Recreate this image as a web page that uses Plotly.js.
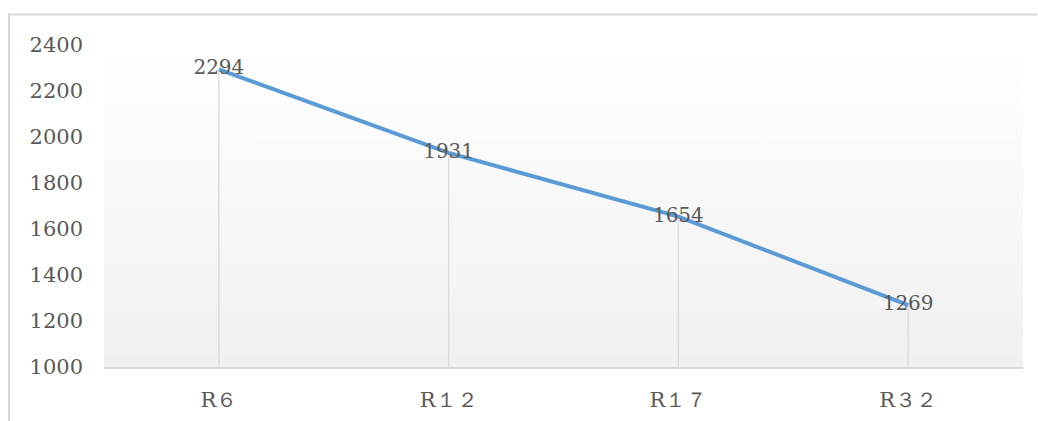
<!DOCTYPE html>
<html>
<head>
<meta charset="utf-8">
<script src="https://cdn.plot.ly/plotly-3.0.1.min.js"></script>
<style>html,body{margin:0;padding:0;background:#fff;}#chart{width:1038px;height:421px;}</style>
</head>
<body>
<div id="chart"></div>
<script>
const categories = ["R６", "R１２", "R１７", "R３２"];
const values = [2294, 1931, 1654, 1269];
const yTicks = [1000, 1200, 1400, 1600, 1800, 2000, 2200, 2400];
const yMin = 1000, yMax = 2400;

const FONT = "'DejaVu Serif', 'Liberation Serif', serif";

// drop lines built from data
const dropX = [], dropY = [];
categories.forEach((c, i) => { dropX.push(c, c, null); dropY.push(yMin, values[i], null); });

const gradSvg = "<svg xmlns='http://www.w3.org/2000/svg' width='100' height='100' preserveAspectRatio='none'>" +
  "<defs><linearGradient id='g' x1='0' y1='0' x2='0' y2='1'>" +
  "<stop offset='0' stop-color='#ffffff'/><stop offset='1' stop-color='#f0f0f0'/></linearGradient></defs>" +
  "<rect width='100' height='100' fill='url(#g)'/></svg>";

const traces = [
  {x: dropX, y: dropY, mode: 'lines', line: {color: '#d9d9d9', width: 1.3}, hoverinfo: 'skip', showlegend: false},
  {x: categories, y: values, mode: 'lines+text', text: values.map(String), textposition: 'middle center',
   textfont: {family: FONT, size: 20, color: '#595959'},
   line: {color: '#5b9bd5', width: 4}, showlegend: false}
];

const layout = {
  width: 1038, height: 421,
  margin: {l: 104, r: 15, t: 45, b: 54},
  paper_bgcolor: '#ffffff', plot_bgcolor: 'rgba(0,0,0,0)',
  font: {family: FONT, color: '#595959', size: 21},
  xaxis: {type: 'category', range: [-0.5, 3.5], showgrid: false, zeroline: false,
    showline: true, linecolor: '#d9d9d9', linewidth: 1.5, ticks: '', ticklabelstandoff: 13,
    tickfont: {family: FONT, size: 21, color: '#595959'}},
  yaxis: {range: [yMin, yMax], tickvals: yTicks, showgrid: false, zeroline: false, showline: false,
    ticks: '', ticklabelstandoff: 20, tickfont: {family: FONT, size: 21, color: '#595959'}},
  images: [{source: 'data:image/svg+xml;charset=utf-8,' + encodeURIComponent(gradSvg),
    xref: 'paper', yref: 'paper', x: 0, y: 1, sizex: 1, sizey: 1, sizing: 'stretch',
    xanchor: 'left', yanchor: 'top', layer: 'below'}],
  shapes: [{type: 'path', xref: 'paper', yref: 'paper',
    path: 'M -0.1034,-0.2 L -0.1034,1.0947 L 1.0152,1.0947',
    line: {color: '#d9d9d9', width: 2}}]
};

Plotly.newPlot('chart', traces, layout, {displayModeBar: false, staticPlot: true});
</script>
</body>
</html>
